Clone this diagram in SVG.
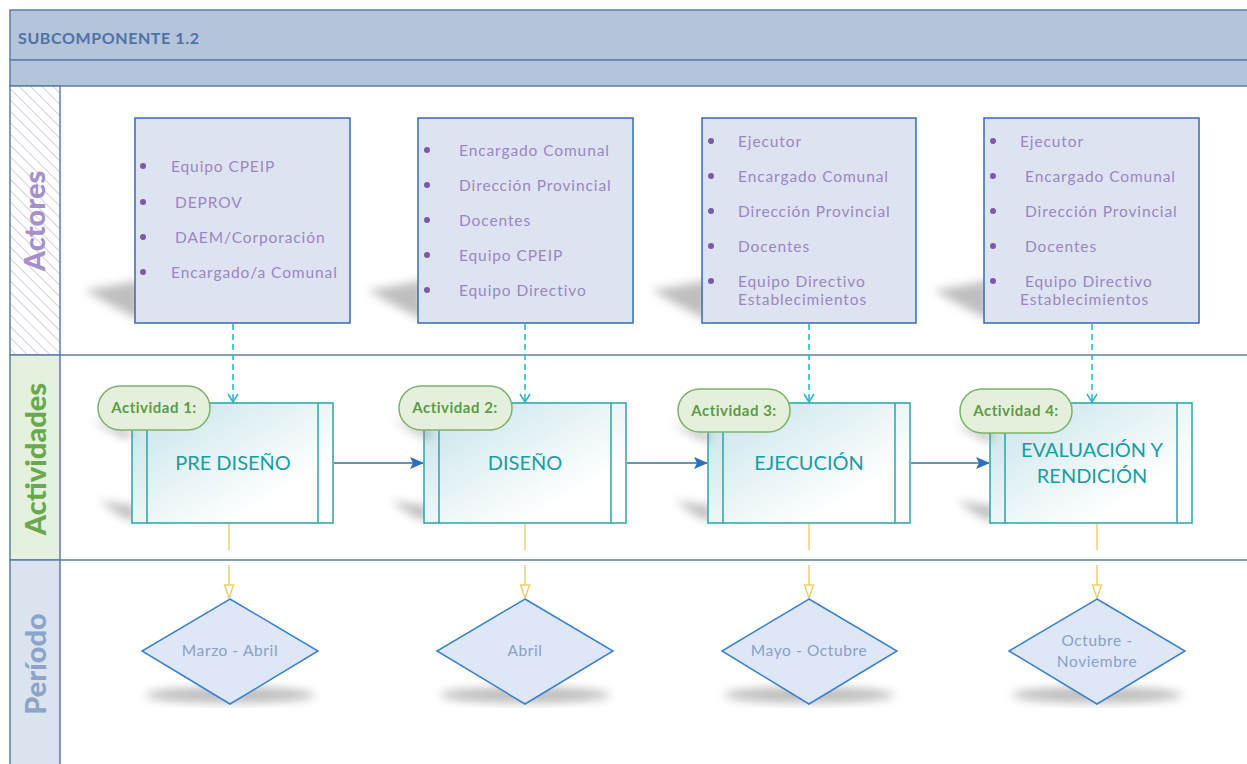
<svg xmlns="http://www.w3.org/2000/svg" width="1247" height="764" viewBox="0 0 1247 764">
<defs>
<pattern id="hatch" width="8" height="8" patternUnits="userSpaceOnUse" patternTransform="rotate(-45)">
<rect width="8" height="8" fill="#ffffff"/>
<line x1="0" y1="0" x2="0" y2="8" stroke="#d4cfe3" stroke-width="2"/>
</pattern>
<linearGradient id="actGrad" x1="0" y1="0" x2="1" y2="1">
<stop offset="0" stop-color="#c4e3e8"/>
<stop offset="0.75" stop-color="#ffffff"/>
</linearGradient>
<marker id="cyanHead" markerWidth="12" markerHeight="12" refX="10" refY="6" orient="auto" markerUnits="userSpaceOnUse" viewBox="0 0 12 12">
<path d="M2,1 L10,6 L2,11" fill="none" stroke="#28b4c6" stroke-width="1.5"/>
</marker>
<marker id="blueHead" markerWidth="14" markerHeight="12" refX="13" refY="6" orient="auto" markerUnits="userSpaceOnUse" viewBox="0 0 14 12">
<path d="M0,0 L14,6 L0,12 L3,6 Z" fill="#2e6fc2"/>
</marker>
<marker id="yellowHead" markerWidth="16" markerHeight="12" refX="14" refY="6" orient="auto" markerUnits="userSpaceOnUse" viewBox="0 0 16 12">
<path d="M1,1.5 L14,6 L1,10.5 Z" fill="#ffffff" stroke="#f0cf70" stroke-width="1.5"/>
</marker>
<filter id="shadowF" x="-30%" y="-30%" width="160%" height="160%"><feGaussianBlur stdDeviation="5"/></filter>
</defs>
<style>
.hdr{fill:#b3c4db;stroke:#5c7eab;stroke-width:1.5}
.lane{stroke:#5c7eab;stroke-width:1.5}
.actor{fill:#dee3f1;stroke:#336cb5;stroke-width:1.5}
.atxt{font-family:"Lato","Liberation Sans",sans-serif;font-size:15.5px;letter-spacing:0.9px;fill:#9a86c3}
.dot{fill:#7a5aa6}
.act{fill:url(#actGrad);stroke:#2aa4ad;stroke-width:1.5}
.actin{stroke:#2aa4ad;stroke-width:1.5}
.acttxt{font-family:"Lato","Liberation Sans",sans-serif;font-size:20px;fill:#1a9ca5;text-anchor:middle}
.pill{fill:#e5f0dc;stroke:#7cb268;stroke-width:1.5}
.piltxt{font-family:"Lato","Liberation Sans",sans-serif;font-size:15px;letter-spacing:0.5px;font-weight:bold;fill:#5c9b46;text-anchor:middle}
.dia{fill:#dde7f8;stroke:#3a80cf;stroke-width:1.5}
.dtxt{font-family:"Lato","Liberation Sans",sans-serif;font-size:15.5px;letter-spacing:0.6px;fill:#8aa0c4;text-anchor:middle}
.shadow{fill:#8a8a8a;opacity:0.55;filter:url(#shadowF)}
.dash{stroke:#28b4c6;stroke-width:1.5;stroke-dasharray:6,4;fill:none}
.flow{stroke:#2e6fc2;stroke-width:1.5;fill:none}
.ylw{stroke:#f0cf70;stroke-width:1.5;fill:none}
.lbl{font-family:"Lato","Liberation Sans",sans-serif;font-weight:900;font-size:29px;text-anchor:middle}
</style>

<g id="frame">
<rect x="10" y="10" width="1245" height="50" class="hdr"/>
<rect x="10" y="60" width="1245" height="26" class="hdr"/>
<text x="18" y="44" font-family="Lato, 'Liberation Sans', sans-serif" font-weight="bold" font-size="16" letter-spacing="0.6" fill="#4f71a6">SUBCOMPONENTE 1.2</text>
<rect x="10" y="86" width="50" height="269" fill="url(#hatch)" class="lane"/>
<rect x="10" y="355" width="50" height="205" fill="#e5f1df" class="lane"/>
<rect x="10" y="560" width="50" height="210" fill="#dbe3ee" class="lane"/>
<line x1="60" y1="355" x2="1247" y2="355" class="lane"/>
<line x1="60" y1="560" x2="1247" y2="560" class="lane"/>
<text class="lbl" transform="translate(45,221) rotate(-90)" fill="#a690cc">Actores</text>
<text class="lbl" transform="translate(46,459) rotate(-90)" fill="#69a94e">Actividades</text>
<text class="lbl" transform="translate(46,664) rotate(-90)" fill="#8ba4c7">Período</text>
</g>

<g id="actor1">
<path d="M85,290 Q120,285 140,280 L140,320 Q110,305 85,290 Z" class="shadow"/>
<rect x="135" y="118" width="215" height="205" class="actor"/>
<circle cx="143" cy="166" r="3" class="dot"/><text x="171" y="172" class="atxt">Equipo CPEIP</text>
<circle cx="143" cy="202" r="3" class="dot"/><text x="175" y="208" class="atxt">DEPROV</text>
<circle cx="143" cy="237" r="3" class="dot"/><text x="175" y="243" class="atxt">DAEM/Corporación</text>
<circle cx="143" cy="272" r="3" class="dot"/><text x="171" y="278" class="atxt">Encargado/a Comunal</text>
</g>

<g id="actor2">
<path d="M368,290 Q403,285 423,280 L423,320 Q393,305 368,290 Z" class="shadow"/>
<rect x="418" y="118" width="215" height="205" class="actor"/>
<circle cx="427" cy="150" r="3" class="dot"/><text x="459" y="156" class="atxt">Encargado Comunal</text>
<circle cx="427" cy="185" r="3" class="dot"/><text x="459" y="191" class="atxt">Dirección Provincial</text>
<circle cx="427" cy="220" r="3" class="dot"/><text x="459" y="226" class="atxt">Docentes</text>
<circle cx="427" cy="255" r="3" class="dot"/><text x="459" y="261" class="atxt">Equipo CPEIP</text>
<circle cx="427" cy="290" r="3" class="dot"/><text x="459" y="296" class="atxt">Equipo Directivo</text>
</g>

<g id="actor3">
<path d="M652,290 Q687,285 707,280 L707,320 Q677,305 652,290 Z" class="shadow"/>
<rect x="702" y="118" width="214" height="205" class="actor"/>
<circle cx="711" cy="141" r="3" class="dot"/><text x="738" y="147" class="atxt">Ejecutor</text>
<circle cx="711" cy="176" r="3" class="dot"/><text x="738" y="182" class="atxt">Encargado Comunal</text>
<circle cx="711" cy="211" r="3" class="dot"/><text x="738" y="217" class="atxt">Dirección Provincial</text>
<circle cx="711" cy="246" r="3" class="dot"/><text x="738" y="252" class="atxt">Docentes</text>
<circle cx="711" cy="281" r="3" class="dot"/><text x="738" y="287" class="atxt">Equipo Directivo</text>
<text x="738" y="305" class="atxt">Establecimientos</text>
</g>

<g id="actor4">
<path d="M934,290 Q969,285 989,280 L989,320 Q959,305 934,290 Z" class="shadow"/>
<rect x="984" y="118" width="215" height="205" class="actor"/>
<circle cx="993" cy="141" r="3" class="dot"/><text x="1020" y="147" class="atxt">Ejecutor</text>
<circle cx="993" cy="176" r="3" class="dot"/><text x="1025" y="182" class="atxt">Encargado Comunal</text>
<circle cx="993" cy="211" r="3" class="dot"/><text x="1025" y="217" class="atxt">Dirección Provincial</text>
<circle cx="993" cy="246" r="3" class="dot"/><text x="1025" y="252" class="atxt">Docentes</text>
<circle cx="993" cy="281" r="3" class="dot"/><text x="1025" y="287" class="atxt">Equipo Directivo</text>
<text x="1020" y="305" class="atxt">Establecimientos</text>
</g>

<g id="connectors">
<line x1="233" y1="324" x2="233" y2="402" class="dash" marker-end="url(#cyanHead)"/>
<line x1="525" y1="324" x2="525" y2="402" class="dash" marker-end="url(#cyanHead)"/>
<line x1="809" y1="324" x2="809" y2="402" class="dash" marker-end="url(#cyanHead)"/>
<line x1="1092" y1="324" x2="1092" y2="402" class="dash" marker-end="url(#cyanHead)"/>
<line x1="334" y1="463" x2="423" y2="463" class="flow" marker-end="url(#blueHead)"/>
<line x1="627" y1="463" x2="707" y2="463" class="flow" marker-end="url(#blueHead)"/>
<line x1="911" y1="463" x2="989" y2="463" class="flow" marker-end="url(#blueHead)"/>
<line x1="229" y1="524" x2="229" y2="550" class="ylw"/>
<line x1="229" y1="565" x2="229" y2="598" class="ylw" marker-end="url(#yellowHead)"/>
<line x1="525" y1="524" x2="525" y2="550" class="ylw"/>
<line x1="525" y1="565" x2="525" y2="598" class="ylw" marker-end="url(#yellowHead)"/>
<line x1="809" y1="524" x2="809" y2="550" class="ylw"/>
<line x1="809" y1="565" x2="809" y2="598" class="ylw" marker-end="url(#yellowHead)"/>
<line x1="1097" y1="524" x2="1097" y2="550" class="ylw"/>
<line x1="1097" y1="565" x2="1097" y2="598" class="ylw" marker-end="url(#yellowHead)"/>
</g>

<g id="activity1">
<path d="M100,500 Q120,505 135,505 L135,522 Q115,515 100,500 Z" class="shadow"/>
<rect x="132" y="403" width="201" height="120" class="act"/>
<line x1="147" y1="403" x2="147" y2="523" class="actin"/>
<line x1="318" y1="403" x2="318" y2="523" class="actin"/>
<text x="233" y="470" class="acttxt">PRE DISEÑO</text>
<path d="M92,420 Q110,425 130,430 L130,440 Q110,432 92,420 Z" class="shadow"/>
<rect x="98" y="386" width="112" height="44" rx="22" class="pill"/>
<text x="154" y="413" class="piltxt">Actividad 1:</text>
</g>

<g id="activity2">
<path d="M392,500 Q412,505 427,505 L427,522 Q407,515 392,500 Z" class="shadow"/>
<rect x="424" y="403" width="202" height="120" class="act"/>
<line x1="439" y1="403" x2="439" y2="523" class="actin"/>
<line x1="611" y1="403" x2="611" y2="523" class="actin"/>
<text x="525" y="470" class="acttxt">DISEÑO</text>
<path d="M393,420 Q411,425 431,430 L431,440 Q411,432 393,420 Z" class="shadow"/>
<rect x="399" y="386" width="113" height="44" rx="22" class="pill"/>
<text x="455" y="413" class="piltxt">Actividad 2:</text>
</g>

<g id="activity3">
<path d="M676,500 Q696,505 711,505 L711,522 Q691,515 676,500 Z" class="shadow"/>
<rect x="708" y="403" width="202" height="120" class="act"/>
<line x1="723" y1="403" x2="723" y2="523" class="actin"/>
<line x1="895" y1="403" x2="895" y2="523" class="actin"/>
<text x="809" y="470" class="acttxt">EJECUCIÓN</text>
<path d="M672,423 Q690,428 710,433 L710,443 Q690,435 672,423 Z" class="shadow"/>
<rect x="678" y="389" width="112" height="43" rx="21.5" class="pill"/>
<text x="734" y="416" class="piltxt">Actividad 3:</text>
</g>

<g id="activity4">
<path d="M958,500 Q978,505 993,505 L993,522 Q973,515 958,500 Z" class="shadow"/>
<rect x="990" y="403" width="202" height="120" class="act"/>
<line x1="1005" y1="403" x2="1005" y2="523" class="actin"/>
<line x1="1177" y1="403" x2="1177" y2="523" class="actin"/>
<text x="1092" y="457" class="acttxt">EVALUACIÓN Y</text>
<text x="1092" y="483" class="acttxt">RENDICIÓN</text>
<path d="M954,423 Q972,428 992,433 L992,443 Q972,435 954,423 Z" class="shadow"/>
<rect x="960" y="389" width="112" height="44" rx="22" class="pill"/>
<text x="1016" y="416" class="piltxt">Actividad 4:</text>
</g>

<g id="period1">
<ellipse cx="230" cy="695" rx="85" ry="8" class="shadow"/>
<polygon points="230,599 318,651 230,704 142,651" class="dia"/>
<text x="230" y="656" class="dtxt">Marzo - Abril</text>
</g>
<g id="period2">
<ellipse cx="525" cy="695" rx="85" ry="8" class="shadow"/>
<polygon points="525,599 613,651 525,704 437,651" class="dia"/>
<text x="525" y="656" class="dtxt">Abril</text>
</g>
<g id="period3">
<ellipse cx="809" cy="695" rx="85" ry="8" class="shadow"/>
<polygon points="809,599 897,651 809,704 722,651" class="dia"/>
<text x="809" y="656" class="dtxt">Mayo - Octubre</text>
</g>
<g id="period4">
<ellipse cx="1097" cy="695" rx="85" ry="8" class="shadow"/>
<polygon points="1097,599 1185,651 1097,704 1009,651" class="dia"/>
<text x="1097" y="646" class="dtxt">Octubre -</text>
<text x="1097" y="667" class="dtxt">Noviembre</text>
</g>
</svg>
